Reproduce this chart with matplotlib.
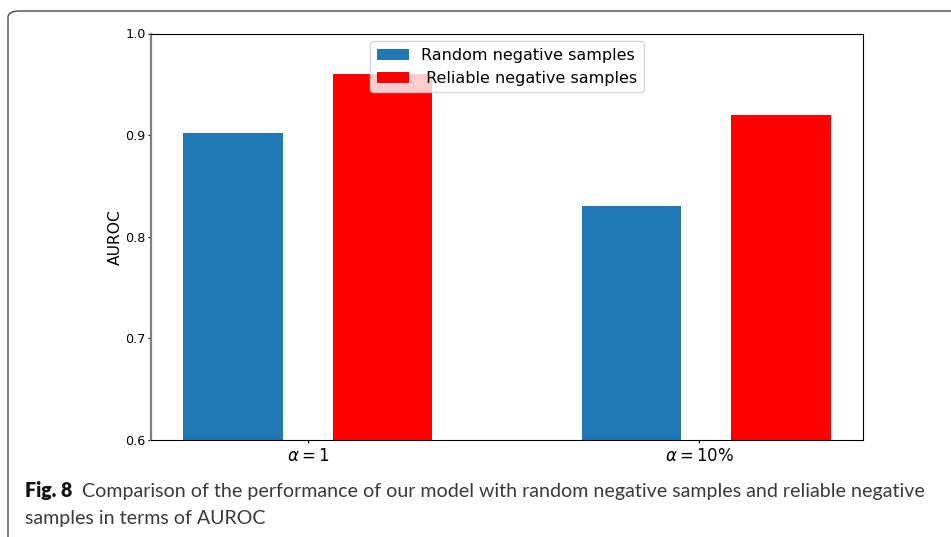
import matplotlib
matplotlib.use("Agg")
import matplotlib.pyplot as plt
from matplotlib.patches import FancyBboxPatch

# AUROC for each sampling strategy, per alpha setting
groups = [r"$\alpha = 1$", r"$\alpha = 10\%$"]
random_neg = [0.902, 0.830]
reliable_neg = [0.960, 0.920]
series_labels = ["Random negative samples", " Reliable negative samples"]

caption_head = "Fig. 8"
caption_line1 = ("Comparison of the performance of our model with random "
                 "negative samples and reliable negative")
caption_line2 = "samples in terms of AUROC"

fig = plt.figure(figsize=(9.51, 5.37), dpi=100)

# rounded frame around the figure panel
frame = FancyBboxPatch((8 / 951, -0.2), 1.2, 1.2 - 11 / 537,
                       boxstyle="round,pad=0,rounding_size=0.012",
                       transform=fig.transFigure, facecolor="none",
                       edgecolor="#4a4a4a", linewidth=1.0, zorder=0)
fig.patches.append(frame)

ax = fig.add_axes([151 / 951, 1 - 440 / 537, 712 / 951, 406.5 / 537])

x = [0, 1]
width = 0.25
ax.bar(x, random_neg, width, color="#1f77b4", label=series_labels[0])
ax.bar([v + 0.375 for v in x], reliable_neg, width, color="#ff0000",
       label=series_labels[1])

ax.set_ylim(0.6, 1.0)
ax.set_yticks([0.6, 0.7, 0.8, 0.9, 1.0])
ax.set_xticks([0.1875, 1.17])
ax.set_xticklabels(groups, fontsize=12)
ax.tick_params(axis="y", labelsize=9.2, length=2, pad=2)
ax.tick_params(axis="x", length=2, pad=3)
ax.set_ylabel("AUROC", fontsize=11.2, labelpad=1.7)

ax.spines["left"].set_color("#808080")
ax.spines["left"].set_linewidth(1.6)

ax.legend(loc="upper center", fontsize=11.5)

# caption under the plot
cap_font = "Lato"
fig.text(25 / 951, 1 - 497 / 537, caption_head, fontsize=14.1,
         fontweight="heavy", family=cap_font, color="#111111",
         va="baseline")
fig.text(82 / 951, 1 - 497 / 537, caption_line1, fontsize=14.1,
         family=cap_font, color="#3a3a3a", va="baseline")
fig.text(25 / 951, 1 - 524 / 537, caption_line2, fontsize=14.1,
         family=cap_font, color="#3a3a3a", va="baseline")

fig.savefig("out.png", dpi=100)
